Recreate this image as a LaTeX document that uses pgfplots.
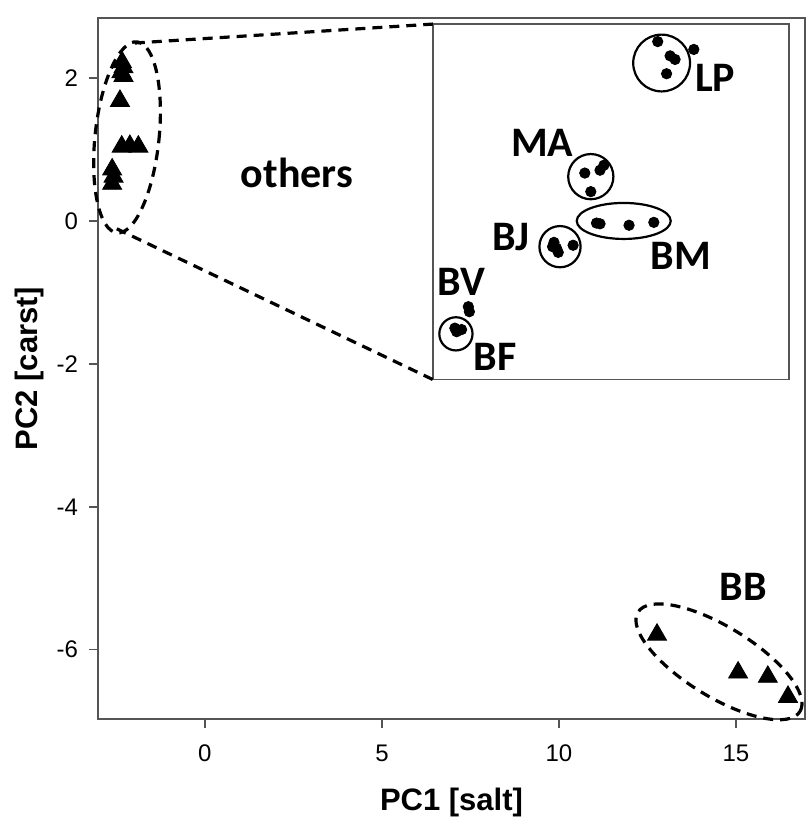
\documentclass[border=0pt]{standalone}
\usepackage{fontspec}
\setmainfont{Liberation Sans}
\newfontfamily\grpfont{Carlito}
\usepackage{pgfplots}
\pgfplotsset{compat=1.18}
\definecolor{axgray}{RGB}{85,85,85}
\tikzset{
  grp/.style={font=\grpfont\bfseries\fontsize{21}{23}\selectfont, inner sep=0pt},
  dsh/.style={line width=1.6pt, dash pattern=on 5pt off 3.5pt},
  ring/.style={line width=1.1pt},
}
\begin{document}
\begin{tikzpicture}
\begin{axis}[
  name=ax,
  scale only axis,
  width=353.5pt, height=350.5pt,
  xmin=-3.02, xmax=16.95,
  ymin=-6.97, ymax=2.84,
  xtick={0,5,10,15},
  ytick={-6,-4,-2,0,2},
  tick pos=left,
  tick align=outside,
  major tick length=4.5pt,
  axis line style={axgray, line width=1.2pt},
  tick style={axgray, line width=0.8pt},
  /pgf/number format/assume math mode=true,
  ticklabel style={font=\fontsize{12}{14}\selectfont},
  xticklabel style={yshift=-5pt},
  yticklabel style={xshift=-2pt},
  xlabel={PC1 [salt]},
  ylabel={PC2 [carst]},
  label style={font=\bfseries\fontsize{15.5}{17}\selectfont},
  xlabel style={at={(axis description cs:0.5,-0.1198)}, anchor=center},
  ylabel style={at={(axis description cs:-0.0962,0.5)}, anchor=center},
  clip=false,
]
% "others" and BB samples (triangles)
\addplot[only marks, mark=triangle*, mark size=5.5pt, black] coordinates {
  (-2.34,2.22) (-2.30,2.15) (-2.36,2.08) (-2.30,2.03)
  (-2.40,1.68)
  (-2.35,1.04) (-2.12,1.05) (-1.88,1.04)
  (-2.62,0.72) (-2.58,0.62) (-2.62,0.52)
  (12.77,-5.79) (15.06,-6.32) (15.90,-6.38) (16.47,-6.66)
};
% zoomed inset samples (dots)
\addplot[only marks, mark=*, mark size=2.6pt, black] coordinates {
  (12.79,2.51) (13.14,2.31) (13.28,2.26) (13.04,2.06) (13.81,2.40)
  (10.73,0.67) (11.16,0.71) (11.27,0.78) (10.90,0.41)
  (11.06,-0.03) (11.16,-0.04) (11.98,-0.06) (12.68,-0.02)
  (9.86,-0.30) (9.98,-0.44) (9.82,-0.36) (10.40,-0.34) (9.93,-0.38)
  (7.44,-1.20) (7.47,-1.27)
  (7.06,-1.50) (7.25,-1.52) (7.11,-1.55)
};
% inset frame and connectors
\draw[axgray, line width=0.8pt] (axis cs:6.44,-2.22) rectangle (axis cs:16.5,2.755);
\draw[dsh] (axis cs:-1.98,2.49) -- (axis cs:6.44,2.755);
\draw[dsh] (axis cs:-2.49,-0.11) -- (axis cs:6.44,-2.22);
% group outlines
\draw[dsh] (axis cs:-2.2,1.17) circle[x radius=16pt, y radius=48pt, rotate=-6];
\draw[dsh] (axis cs:14.52,-6.17) circle[x radius=47.5pt, y radius=17.5pt, rotate=-31.5];
\draw[ring] (axis cs:12.9,2.21) circle[radius=14.2pt];
\draw[ring] (axis cs:10.90,0.62) circle[radius=11.3pt];
\draw[ring] (axis cs:11.83,0.0) circle[x radius=23.5pt, y radius=9pt];
\draw[ring] (axis cs:10.03,-0.36) circle[radius=10.3pt];
\draw[ring] (axis cs:7.09,-1.58) circle[radius=8.3pt];
% group labels
\node[grp] at (axis cs:2.6,0.67) {others};
\node[grp] at (axis cs:15.2,-5.12) {BB};
\node[grp] at (axis cs:14.41,2.0) {LP};
\node[grp] at (axis cs:9.53,1.09) {MA};
\node[grp] at (axis cs:13.44,-0.49) {BM};
\node[grp] at (axis cs:8.64,-0.23) {BJ};
\node[grp] at (axis cs:7.25,-0.85) {BV};
\node[grp] at (axis cs:8.19,-1.90) {BF};
\end{axis}
\pgfresetboundingbox
\path ([shift={(-49pt,-53pt)}]ax.south west) rectangle ([shift={(3pt,9pt)}]ax.north east);
\end{tikzpicture}
\end{document}
